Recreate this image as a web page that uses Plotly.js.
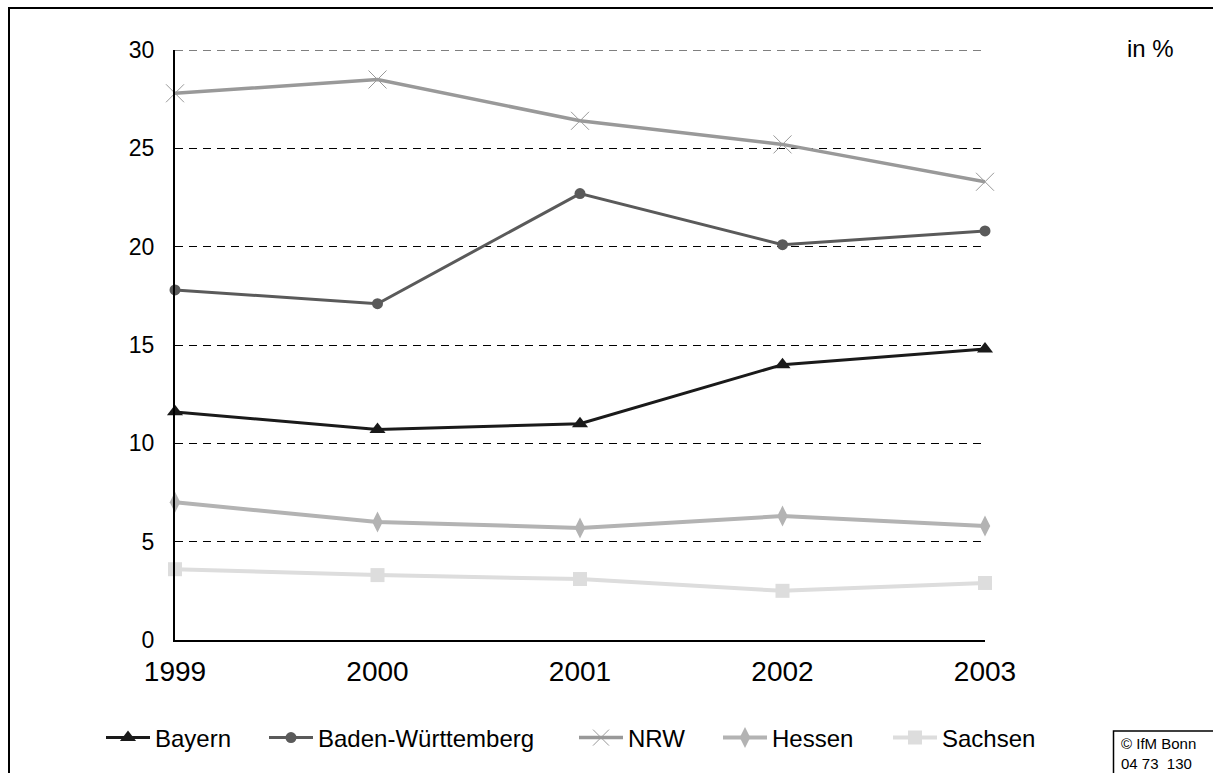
<!DOCTYPE html>
<html>
<head>
<meta charset="utf-8">
<script src="https://cdn.plot.ly/plotly-3.0.1.min.js"></script>
<style>
  html, body { margin: 0; padding: 0; background: #fff; }
  #chart { width: 1213px; height: 773px; }
</style>
</head>
<body>
<div id="chart"></div>
<script>
const years = [1999, 2000, 2001, 2002, 2003];
const bayern = [11.6, 10.7, 11.0, 14.0, 14.8];
const badenWuerttemberg = [17.8, 17.1, 22.7, 20.1, 20.8];
const nrw = [27.8, 28.5, 26.4, 25.2, 23.3];
const hessen = [7.0, 6.0, 5.7, 6.3, 5.8];
const sachsen = [3.6, 3.3, 3.1, 2.5, 2.9];
const yTicks = [0, 5, 10, 15, 20, 25, 30];
const seriesNames = ['Bayern', 'Baden-Württemberg', 'NRW', 'Hessen', 'Sachsen'];

// plot area in px: left 175, right 985, top 50, bottom 640
const PL = 175, PW = 810, PT = 50, PH = 590;
const px2x = p => (p - PL) / PW;
const px2y = p => (PT + PH - p) / PH;

const traces = [
  {name: seriesNames[0], y: bayern, legend: 'legend', line: {color: '#1a1a1a', width: 3},
   marker: {symbol: 'triangle-up', size: 14, color: '#1a1a1a'}},
  {name: seriesNames[1], y: badenWuerttemberg, legend: 'legend2', line: {color: '#5a5a5a', width: 3},
   marker: {symbol: 'circle', size: 11, color: '#5a5a5a'}},
  {name: seriesNames[2], y: nrw, legend: 'legend3', line: {color: '#999999', width: 3.5},
   marker: {symbol: 'x-thin-open', size: 18, color: '#999999', line: {color: '#999999', width: 1}}},
  {name: seriesNames[3], y: hessen, legend: 'legend4', line: {color: '#b3b3b3', width: 4},
   marker: {symbol: 'diamond-tall', size: 15, color: '#b3b3b3'}},
  {name: seriesNames[4], y: sachsen, legend: 'legend5', line: {color: '#dddddd', width: 4},
   marker: {symbol: 'square', size: 14, color: '#dddddd'}}
].map(t => Object.assign({x: years, type: 'scatter', mode: 'lines+markers', cliponaxis: false}, t));

// legend text start positions (px)
const legendTextX = [155, 318, 628, 772, 942];
function legendAt(i) {
  return {orientation: 'h', x: px2x(legendTextX[i] - 54), xanchor: 'left',
          y: px2y(738), yanchor: 'middle', font: {size: 24}, itemwidth: 44,
          bgcolor: 'rgba(0,0,0,0)', borderwidth: 0};
}

const layout = {
  width: 1213, height: 773,
  margin: {l: 175, r: 228, t: 50, b: 133},
  paper_bgcolor: '#ffffff', plot_bgcolor: '#ffffff',
  font: {family: 'Arial, "Liberation Sans", sans-serif', color: '#000', size: 18},
  showlegend: true,
  legend: legendAt(0), legend2: legendAt(1), legend3: legendAt(2),
  legend4: legendAt(3), legend5: legendAt(4),
  xaxis: {range: [1999, 2003], tickvals: years, ticktext: years.map(String),
          showgrid: false, zeroline: false, showline: true, linecolor: '#000', linewidth: 2,
          ticks: 'outside', ticklen: 5, tickcolor: 'rgba(0,0,0,0)', tickfont: {size: 28}},
  yaxis: {range: [0, 30], tickvals: yTicks, showgrid: true, gridcolor: '#000', gridwidth: 1,
          griddash: '8px,6px', zeroline: false, showline: true, linecolor: '#000', linewidth: 2,
          ticks: 'outside', ticklen: 14, tickcolor: 'rgba(0,0,0,0)', tickfont: {size: 23}},
  shapes: [
    {type: 'line', xref: 'paper', yref: 'y', x0: 0, x1: 1, y0: yTicks[yTicks.length - 1], y1: yTicks[yTicks.length - 1],
     line: {color: '#000', width: 1, dash: '8px,6px'}, layer: 'below'},
    {type: 'rect', xref: 'paper', yref: 'paper', x0: px2x(9), x1: px2x(1240), y0: px2y(800), y1: px2y(8),
     line: {color: '#000', width: 2}, fillcolor: 'rgba(0,0,0,0)', layer: 'below'},
    {type: 'rect', xref: 'paper', yref: 'paper', x0: px2x(1113.5), x1: px2x(1240), y0: px2y(800), y1: px2y(731),
     line: {color: '#000', width: 1.5}, fillcolor: '#fff'}
  ],
  annotations: [
    {text: 'in %', xref: 'paper', yref: 'paper', x: px2x(1125), y: px2y(48), xanchor: 'left', yanchor: 'middle',
     showarrow: false, font: {size: 24}},
    {text: '© IfM Bonn<br>04 73  130', xref: 'paper', yref: 'paper', x: px2x(1119), y: px2y(733),
     xanchor: 'left', yanchor: 'top', align: 'left', showarrow: false, font: {size: 15}}
  ]
};

Plotly.newPlot('chart', traces, layout, {displayModeBar: false, staticPlot: true});
</script>
</body>
</html>
